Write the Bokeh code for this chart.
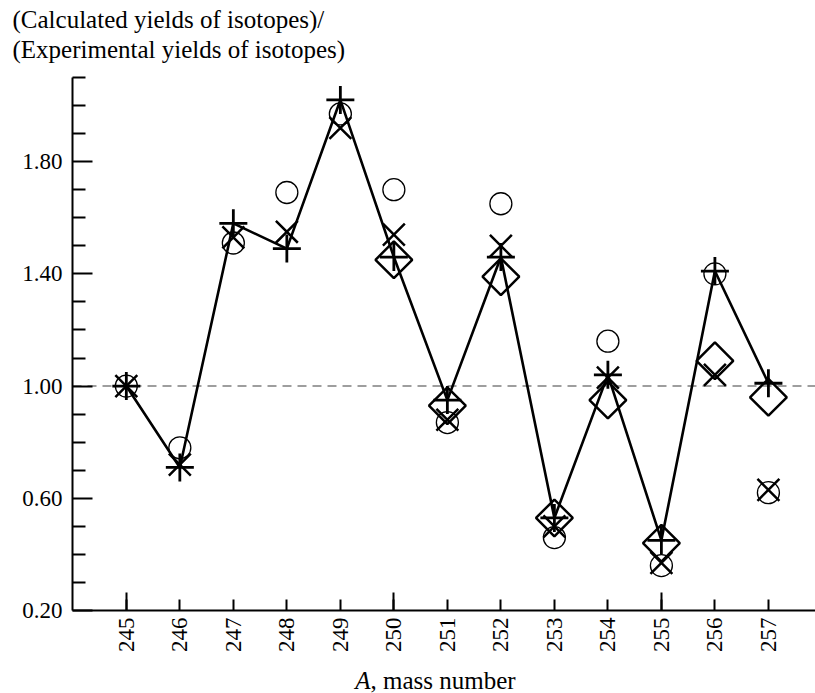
import numpy as np
from bokeh.plotting import figure
from bokeh.layouts import column
from bokeh.models import FixedTicker, LinearAxis, Span, Label, Range1d, Title
from bokeh.embed import file_html
from bokeh.resources import INLINE

# ---------------- data ----------------
mass_numbers = [245, 246, 247, 248, 249, 250, 251, 252, 253, 254, 255, 256, 257]
ratio_circle = [1.00, 0.78, 1.51, 1.69, 1.97, 1.70, 0.87, 1.65, 0.46, 1.16, 0.36, 1.40, 0.62]
ratio_plus = [1.00, 0.71, 1.58, 1.49, 2.02, 1.46, 0.95, 1.46, 0.53, 1.04, 0.45, 1.41, 1.01]
ratio_x = [1.00, 0.72, 1.53, 1.55, 1.92, 1.54, 0.88, 1.50, 0.50, 1.03, 0.37, 1.04, 0.63]
diamond_mass_numbers = [250, 251, 252, 253, 254, 255, 256, 257]
ratio_diamond = [1.45, 0.93, 1.39, 0.53, 0.95, 0.44, 1.09, 0.96]

x_tick_labels = ["245", "246", "247", "248", "249", "250", "251", "252",
                 "253", "254", "255", "256", "257"]
x_long_ticks = [245, 250, 255]
y_major_ticks = [0.2, 0.6, 1.0, 1.4, 1.8]
y_tick_labels = ["0.20", "0.60", "1.00", "1.40", "1.80"]
y_minor_ticks = [0.3, 0.4, 0.5, 0.7, 0.8, 0.9, 1.1, 1.2, 1.3, 1.5, 1.6, 1.7, 1.9, 2.0, 2.1]
reference_ratio = 1.0

title_line1 = "(Calculated yields of isotopes)/"
title_line2 = "(Experimental yields of isotopes)"
xlabel_italic = "A"
xlabel_rest = ",  mass number"

FONT = "Liberation Serif"
W = 815

# ---------------- main plot ----------------
p = figure(width=W, height=660, title=None,
           x_range=Range1d(243.994, 257.88), y_range=Range1d(0.2, 2.1),
           output_backend="svg", toolbar_location=None,
           x_axis_location=None, y_axis_location=None,
           min_border_left=72, min_border_right=0,
           min_border_top=77, min_border_bottom=50)
p.grid.visible = False
p.outline_line_color = None

# two-line y description at the top-left
p.add_layout(Title(text=title_line2, align="left", offset=-60, vertical_align="middle",
                   standoff=28, text_font=FONT, text_font_size="25px",
                   text_font_style="normal", text_color="black"), "above")
p.add_layout(Title(text=title_line1, align="left", offset=-60, vertical_align="middle",
                   standoff=-26, text_font=FONT, text_font_size="25px",
                   text_font_style="normal", text_color="black"), "above")

# long ticks at 245, 250, 255 (no labels, zero extent)
ax_long = LinearAxis(ticker=FixedTicker(ticks=x_long_ticks, minor_ticks=[]),
                     major_tick_in=18, major_tick_out=0,
                     minor_tick_in=0, minor_tick_out=0,
                     major_label_text_color=None, axis_line_color=None,
                     major_tick_line_width=2, major_tick_line_color="black")
p.add_layout(ax_long, "below")

xaxis = LinearAxis(ticker=FixedTicker(ticks=mass_numbers, minor_ticks=[]),
                   major_tick_in=11, major_tick_out=0,
                   minor_tick_in=0, minor_tick_out=0,
                   major_label_orientation=np.pi / 2,
                   major_label_overrides=dict(zip(mass_numbers, x_tick_labels)),
                   major_label_standoff=7,
                   major_label_text_font=FONT, major_label_text_font_size="23px",
                   major_label_text_color="black",
                   axis_line_width=2, axis_line_color="black",
                   major_tick_line_width=2, major_tick_line_color="black")
p.add_layout(xaxis, "below")

yaxis = LinearAxis(ticker=FixedTicker(ticks=y_major_ticks, minor_ticks=y_minor_ticks),
                   major_tick_in=20, major_tick_out=0,
                   minor_tick_in=13, minor_tick_out=0,
                   major_label_overrides=dict(zip(y_major_ticks, y_tick_labels)),
                   major_label_standoff=10,
                   major_label_text_font=FONT, major_label_text_font_size="23px",
                   major_label_text_color="black",
                   axis_line_width=2, axis_line_color="black",
                   major_tick_line_width=2, major_tick_line_color="black",
                   minor_tick_line_width=2, minor_tick_line_color="black")
p.add_layout(yaxis, "left")

# reference dashed line
p.add_layout(Span(location=reference_ratio, dimension="width", line_dash="9 6",
                  line_color="#7f7f7f", line_width=1.5, level="underlay"))

# connecting line (plus series)
p.line(mass_numbers, ratio_plus, line_color="black", line_width=2.6)

# markers
p.scatter(mass_numbers, ratio_circle, marker="circle", size=22,
          fill_color=None, line_color="black", line_width=1.3)
p.scatter(mass_numbers, ratio_x, marker="x", size=31,
          line_color="black", line_width=2.5)
p.scatter(mass_numbers, ratio_plus, marker="cross", size=28,
          line_color="black", line_width=2.8)
p.scatter(diamond_mass_numbers, ratio_diamond, marker="square", angle=np.pi / 4,
          size=26, fill_color=None, line_color="black", line_width=2.5)

# ---------------- x-axis title strip (frame aligned with the plot) ----------------
bot = figure(width=W, height=33, output_backend="svg", toolbar_location=None,
             x_axis_location=None, y_axis_location=None, min_border=0, title=None)
bot.grid.visible = False
bot.outline_line_color = None
bot.add_layout(Label(x=298, y=13, x_units="screen", y_units="screen",
                     text=xlabel_italic, text_font=FONT, text_font_size="25px",
                     text_font_style="italic",
                     text_baseline="middle", text_align="right", text_color="black"))
bot.add_layout(Label(x=298, y=13, x_units="screen", y_units="screen",
                     text=xlabel_rest, text_font=FONT, text_font_size="25px",
                     text_baseline="middle", text_align="left", text_color="black"))

layout = column(p, bot, spacing=0)
open("out.html", "w").write(file_html(layout, INLINE))
